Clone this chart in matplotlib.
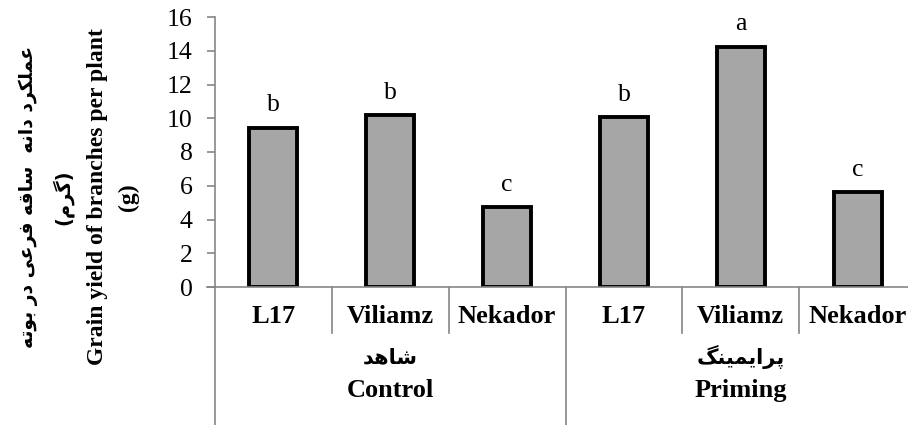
import matplotlib
matplotlib.use('Agg')
import matplotlib.pyplot as plt
import matplotlib.transforms as mtrans
import numpy as np

# data
cultivars = ['L17', 'Viliamz', 'Nekador']
groups = ['Control', 'Priming']
groups_fa = ['شاهد', 'پرایمینگ']
control = [9.45, 10.2, 4.75]
priming = [10.05, 14.25, 5.65]
letters_control = ['b', 'b', 'c']
letters_priming = ['b', 'a', 'c']
ylabel_fa = 'عملکرد دانه  ساقه فرعی در بوته'
unit_fa = '(گرم)'
ylabel_en = 'Grain yield of branches per plant'
unit_en = '(g)'

# simple persian shaping: isolated, final, initial, medial
forms = {
    'ا': (0xFE8D, 0xFE8E, None, None),
    'ب': (0xFE8F, 0xFE90, 0xFE91, 0xFE92),
    'پ': (0xFB56, 0xFB57, 0xFB58, 0xFB59),
    'ت': (0xFE95, 0xFE96, 0xFE97, 0xFE98),
    'د': (0xFEA9, 0xFEAA, None, None),
    'ر': (0xFEAD, 0xFEAE, None, None),
    'س': (0xFEB1, 0xFEB2, 0xFEB3, 0xFEB4),
    'ش': (0xFEB5, 0xFEB6, 0xFEB7, 0xFEB8),
    'ع': (0xFEC9, 0xFECA, 0xFECB, 0xFECC),
    'ف': (0xFED1, 0xFED2, 0xFED3, 0xFED4),
    'ق': (0xFED5, 0xFED6, 0xFED7, 0xFED8),
    'ک': (0xFB8E, 0xFB8F, 0xFB90, 0xFB91),
    'گ': (0xFB92, 0xFB93, 0xFB94, 0xFB95),
    'ل': (0xFEDD, 0xFEDE, 0xFEDF, 0xFEE0),
    'م': (0xFEE1, 0xFEE2, 0xFEE3, 0xFEE4),
    'ن': (0xFEE5, 0xFEE6, 0xFEE7, 0xFEE8),
    'ه': (0xFEE9, 0xFEEA, 0xFEEB, 0xFEEC),
    'و': (0xFEED, 0xFEEE, None, None),
    'ی': (0xFBFC, 0xFBFD, 0xFBFE, 0xFBFF),
}


def fa(s):
    out = []
    for i, ch in enumerate(s):
        if ch not in forms:
            out.append({'(': ')', ')': '('}.get(ch, ch))
            continue
        prev = s[i - 1] if i > 0 else ''
        nxt = s[i + 1] if i + 1 < len(s) else ''
        join_prev = prev in forms and forms[prev][2] is not None
        join_next = forms[ch][2] is not None and nxt in forms
        if join_prev and join_next:
            k = 3
        elif join_prev:
            k = 1
        elif join_next:
            k = 2
        else:
            k = 0
        out.append(chr(forms[ch][k]))
    return ''.join(out[::-1])


serif = ['Liberation Serif', 'DejaVu Serif']
arab = ['DejaVu Sans']
grey = '#868686'

fig = plt.figure(figsize=(9.08, 4.25), dpi=100)
ax = fig.add_axes([215 / 908, 1 - 287 / 425, 701 / 908, 270 / 425])

values = control + priming
letters = letters_control + letters_priming
x = np.arange(len(values))
ax.bar(x, values, width=0.41, color='#a6a6a6', edgecolor='black', linewidth=2.8)
for xi, v, l in zip(x, values, letters):
    ax.annotate(l, (xi, v), xytext=(0, 8), textcoords='offset points',
                ha='center', va='bottom', fontsize=18.5, family=serif)

ax.set_xlim(-0.5, 5.5)
ax.set_ylim(0, 16)
ax.set_yticks(range(0, 17, 2))
ax.set_xticks([])
for s in ['top', 'right']:
    ax.spines[s].set_visible(False)
for s in ['left', 'bottom']:
    ax.spines[s].set_color(grey)
    ax.spines[s].set_linewidth(1.2)
ax.tick_params(axis='y', direction='out', length=6, width=1.2, color=grey,
               pad=10, labelsize=18.5)
for t in ax.get_yticklabels():
    t.set_family(serif)

# category axis dividers
tr = mtrans.blended_transform_factory(ax.transData, ax.transAxes)
for xd in [0.5, 1.5, 3.5, 4.5]:
    ax.plot([xd, xd], [0, -0.17], transform=tr, color=grey, lw=1.2, clip_on=False)
for xd in [-0.5, 2.5, 5.5]:
    ax.plot([xd, xd], [0, -0.52], transform=tr, color=grey, lw=1.2, clip_on=False)
ax.plot([-0.5 - 0.065, -0.5], [0, 0], transform=tr, color=grey, lw=1.2, clip_on=False)

for g in range(2):
    for c in range(3):
        ax.text(g * 3 + c, -0.11, cultivars[c], transform=tr, ha='center',
                va='center', fontsize=19, fontweight='bold', family=serif)
    ax.text(g * 3 + 1, -0.26, fa(groups_fa[g]), transform=tr, ha='center',
            va='center', fontsize=15, fontweight='bold', family=arab)
    ax.text(g * 3 + 1, -0.383, groups[g], transform=tr, ha='center',
            va='center', fontsize=19, fontweight='bold', family=serif)

yc = 1 - 197 / 425
fig.text(28 / 908, yc, fa(ylabel_fa), rotation=90, ha='center', va='center',
         fontsize=13.5, fontweight='bold', family=arab)
fig.text(62 / 908, yc, fa(unit_fa), rotation=90, ha='center', va='center',
         fontsize=14, fontweight='bold', family=arab)
fig.text(98 / 908, yc, ylabel_en, rotation=90, ha='center', va='center',
         fontsize=17, fontweight='bold', family=serif)
fig.text(128 / 908, yc, unit_en, rotation=90, ha='center', va='center',
         fontsize=17, fontweight='bold', family=serif)

fig.savefig('out.png', dpi=100)
